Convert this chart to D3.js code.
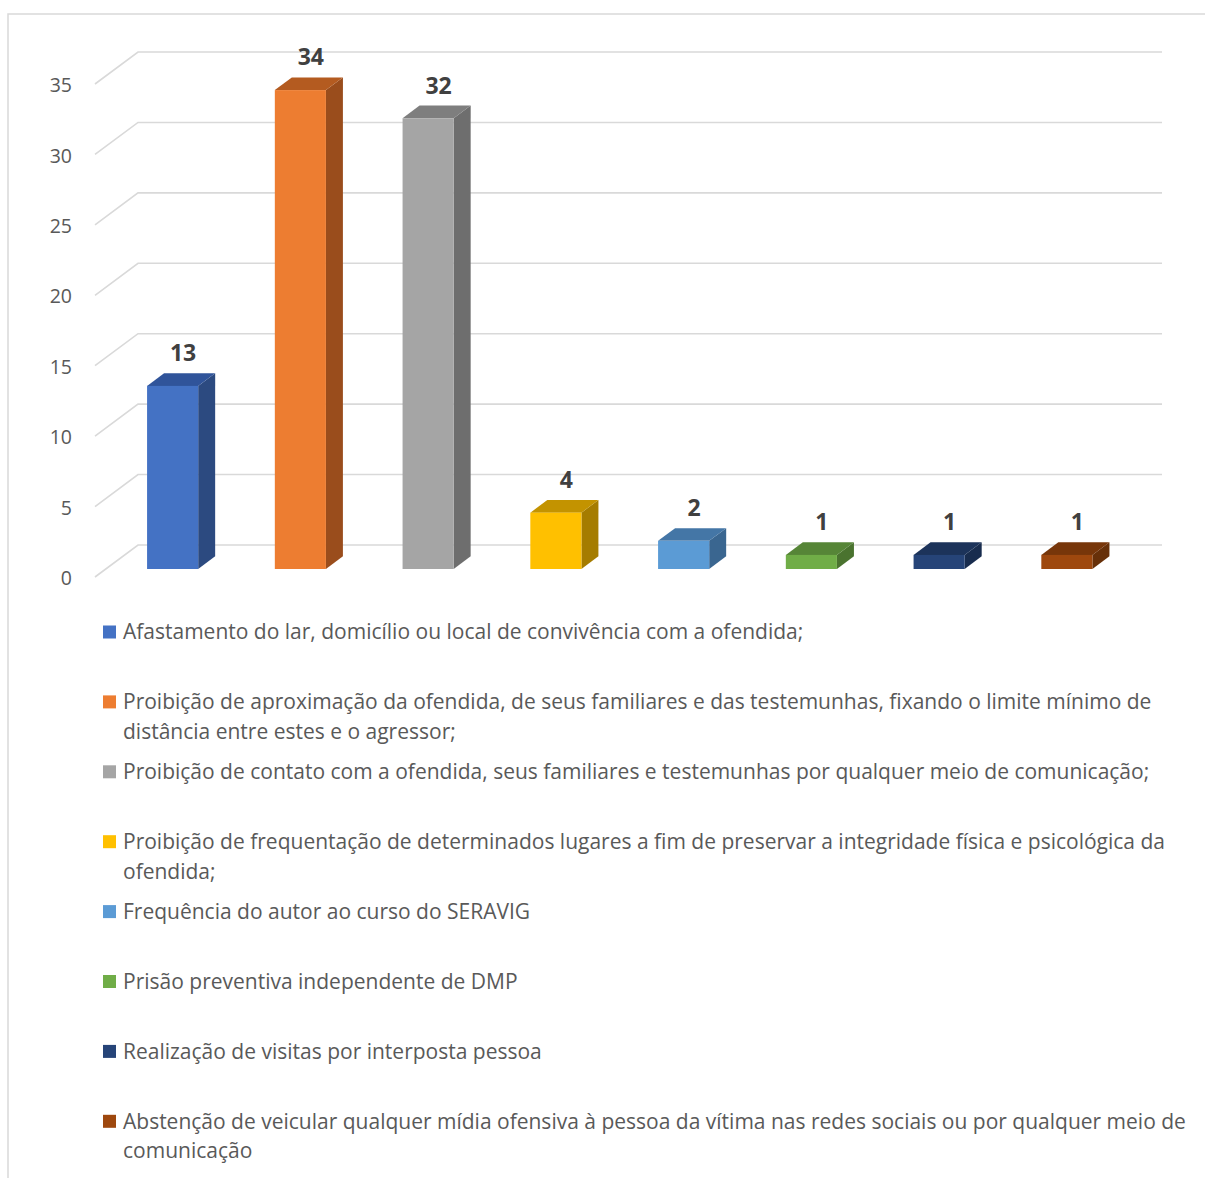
<!DOCTYPE html>
<html>
<head>
<meta charset="utf-8">
<script src="https://cdn.jsdelivr.net/npm/d3@7"></script>
<style>
  html, body { margin: 0; padding: 0; background: #fff; }
  svg { display: block; }
</style>
</head>
<body>
<svg id="chart" width="1205" height="1178"></svg>
<script>
// Medidas protetivas aplicadas
const categories = [
  "Afastamento do lar, domicílio ou local de convivência com a ofendida;",
  "Proibição de aproximação da ofendida, de seus familiares e das testemunhas, fixando o limite mínimo de distância entre estes e o agressor;",
  "Proibição de contato com a ofendida, seus familiares e testemunhas por qualquer meio de comunicação;",
  "Proibição de frequentação de determinados lugares a fim de preservar a integridade física e psicológica da ofendida;",
  "Frequência do autor ao curso do SERAVIG",
  "Prisão preventiva independente de DMP",
  "Realização de visitas por interposta pessoa",
  "Abstenção de veicular qualquer mídia ofensiva à pessoa da vítima nas redes sociais ou por qualquer meio de comunicação"
];
const values = [13, 34, 32, 4, 2, 1, 1, 1];
const yTicks = [0, 5, 10, 15, 20, 25, 30, 35];

// front, top and side shades for each column
const frontColors = ["#4472C4", "#ED7D31", "#A5A5A5", "#FFC000", "#5B9BD5", "#70AD47", "#264478", "#9E480E"];
const topColors   = ["#30549A", "#B45B20", "#7E7E7E", "#C39300", "#4476A6", "#568537", "#1C335A", "#77360A"];
const sideColors  = ["#2C4A80", "#9A4D1C", "#6E6E6E", "#A57C00", "#3A6690", "#4A732F", "#182C4E", "#673009"];

const svg = d3.select("#chart");

// outer frame
svg.append("rect")
  .attr("x", 8).attr("y", 14).attr("width", 1210).attr("height", 1200)
  .attr("fill", "none").attr("stroke", "#d9d9d9").attr("stroke-width", 1.5);

// oblique projection: depth vector of the floor
const depthDX = 43, depthDY = -32;
const floorFrontX = 95, floorFrontY = 577, wallRight = 1162;

const y = d3.scaleLinear().domain([0, 35]).range([0, 493]);
const x = d3.scaleBand().domain(d3.range(categories.length)).range([98, 1120]).padding(0);
const barW = x.step() * 0.4;
const dFront = 0.25, dBack = 0.645;

// gridlines: side wall diagonal + back wall horizontal
const grid = svg.append("g");
yTicks.forEach(t => {
  const y0 = floorFrontY - y(t);
  const pts = [[floorFrontX, y0], [floorFrontX + depthDX, y0 + depthDY], [wallRight, y0 + depthDY]];
  grid.append("path")
    .attr("d", d3.line()(pts))
    .attr("fill", "none").attr("stroke", "#d9d9d9").attr("stroke-width", 1.6);
});

// y axis labels
svg.append("g").selectAll("text").data(yTicks).join("text")
  .attr("x", 72).attr("y", t => floorFrontY - y(t))
  .attr("dy", "0.42em")
  .attr("text-anchor", "end")
  .attr("font-family", "'Open Sans', sans-serif")
  .attr("font-size", 19.5)
  .attr("fill", "#595959")
  .text(d => d);

// 3D columns
const bars = svg.append("g");
values.forEach((v, i) => {
  const fx = x(i) + (x.step() - barW) / 2 + depthDX * dFront;
  const fy = floorFrontY + depthDY * dFront;         // front bottom
  const ty = fy - y(v);                               // front top
  const ddx = depthDX * (dBack - dFront), ddy = depthDY * (dBack - dFront);
  // side
  bars.append("path")
    .attr("d", d3.line()([[fx + barW, ty], [fx + barW + ddx, ty + ddy], [fx + barW + ddx, fy + ddy], [fx + barW, fy]]) + "Z")
    .attr("fill", sideColors[i]);
  // top
  bars.append("path")
    .attr("d", d3.line()([[fx, ty], [fx + ddx, ty + ddy], [fx + barW + ddx, ty + ddy], [fx + barW, ty]]) + "Z")
    .attr("fill", topColors[i]);
  // front
  bars.append("rect")
    .attr("x", fx).attr("y", ty).attr("width", barW).attr("height", fy - ty)
    .attr("fill", frontColors[i]);
  // value label
  bars.append("text")
    .attr("x", fx + barW / 2 + 10.5)
    .attr("y", ty + ddy - 12)
    .attr("text-anchor", "middle")
    .attr("font-family", "'Open Sans', sans-serif")
    .attr("font-weight", "bold")
    .attr("font-size", 23)
    .attr("fill", "#404040")
    .text(v);
});

// legend
const legend = svg.append("g");
const legX = 103, textX = 123, legTop = 632, rowStep = 69.9, lineH = 29.5, maxW = 1074;
categories.forEach((c, i) => {
  const cy = legTop + rowStep * i;
  legend.append("rect")
    .attr("x", legX).attr("y", cy - 6.5).attr("width", 13).attr("height", 13)
    .attr("fill", frontColors[i]);
  const t = legend.append("text")
    .attr("font-family", "'Open Sans', sans-serif")
    .attr("font-size", 21)
    .attr("fill", "#595959");
  const words = c.split(" ");
  let line = [], lineNo = 0;
  let ts = t.append("tspan").attr("x", textX).attr("y", cy).attr("dy", "0.35em");
  words.forEach(w => {
    line.push(w);
    ts.text(line.join(" "));
    if (ts.node().getComputedTextLength() > maxW && line.length > 1) {
      line.pop();
      ts.text(line.join(" "));
      line = [w];
      lineNo++;
      ts = t.append("tspan").attr("x", textX).attr("y", cy + lineH * lineNo).attr("dy", "0.35em").text(w);
    }
  });
});
</script>
</body>
</html>
